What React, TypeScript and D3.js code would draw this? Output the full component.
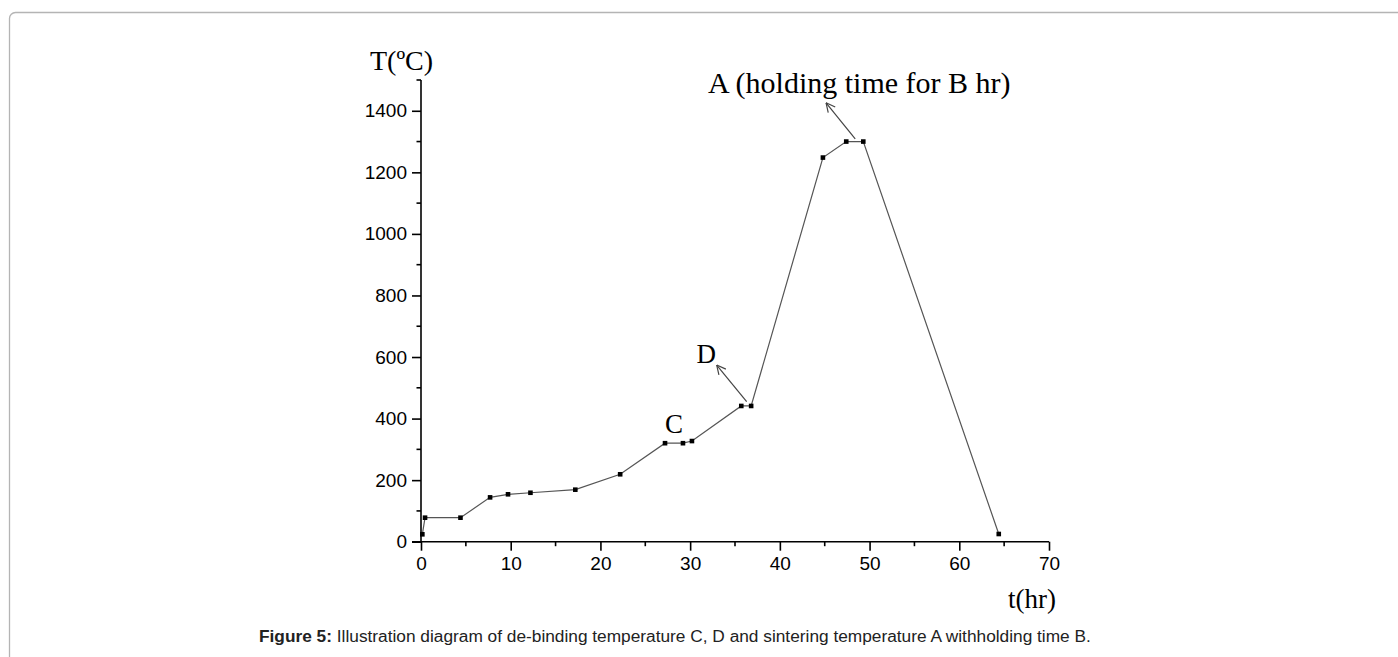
import React, { useEffect, useRef } from 'react';
import * as d3 from 'd3';

// sintering profile
const timeHr = [0.15, 0.45, 4.4, 7.7, 9.7, 12.2, 17.2, 22.2, 27.2, 29.2, 30.2, 35.7, 36.8, 44.8, 47.4, 49.3, 64.4];
const tempC = [24, 78, 78, 144, 154, 159, 169, 219, 320, 320, 327, 441, 441, 1248, 1300, 1300, 25];

const xMajor = [0, 10, 20, 30, 40, 50, 60, 70];
const xMinor = [5, 15, 25, 35, 45, 55, 65];
const yMajor = [0, 200, 400, 600, 800, 1000, 1200, 1400];
const yMinor = [100, 300, 500, 700, 900, 1100, 1300, 1500];

// annotation labels and arrows (data units)
const noteLabels = ['A (holding time for B hr)', 'D', 'C'];
const noteAt = [[32.0, 1457], [30.7, 582], [27.2, 354]];
const arrowFrom = [[48.4, 1309], [36.3, 455]];
const arrowTo = [[45.15, 1426], [32.96, 574]];

const caption = 'Illustration diagram of de-binding temperature C, D and sintering temperature A withholding time B.';

export default function App() {
  const ref = useRef<SVGSVGElement>(null);

  useEffect(() => {
    const width = 1398;
    const height = 657;
    const svg = d3.select(ref.current);
    svg.selectAll('*').remove();

    const x = d3.scaleLinear().domain([0, 70]).range([421, 1049]);
    const y = d3.scaleLinear().domain([0, 1500]).range([541.7, 80]);

    // page frame
    svg.append('rect')
      .attr('x', 9.5).attr('y', 12.5)
      .attr('width', width + 100).attr('height', height + 100)
      .attr('rx', 6)
      .attr('fill', 'none')
      .attr('stroke', '#b4b4b4')
      .attr('stroke-width', 1.3);

    const defs = svg.append('defs');
    defs.append('marker')
      .attr('id', 'open-arrow')
      .attr('viewBox', '0 0 10 10')
      .attr('refX', 10).attr('refY', 5)
      .attr('markerWidth', 10).attr('markerHeight', 10)
      .attr('markerUnits', 'userSpaceOnUse')
      .attr('orient', 'auto')
      .append('path')
      .attr('d', 'M1,0.5 L10,5 L1,9.5')
      .attr('fill', 'none')
      .attr('stroke', '#444')
      .attr('stroke-width', 1.2);

    const tickFont = 'Arial, "Liberation Sans", sans-serif';
    const serif = '"Times New Roman", "Liberation Serif", serif';
    const fmt = d3.format('d');

    // y axis
    const yAxis = svg.append('g').attr('transform', `translate(${x(0)},0)`);
    yAxis.call(
      d3.axisLeft(y).tickValues(yMajor).tickFormat(d => fmt(d as number))
        .tickSize(9).tickPadding(5).tickSizeOuter(0)
    );
    yAxis.select('.domain').remove();
    yAxis.append('line')
      .attr('y1', y(0)).attr('y2', y(1500))
      .attr('stroke', '#000').attr('stroke-width', 1.6);
    yAxis.selectAll('.tick line').attr('stroke-width', 1.6);
    yAxis.selectAll('.minor')
      .data(yMinor).enter().append('line')
      .attr('class', 'minor')
      .attr('x1', -4.5).attr('x2', 0)
      .attr('y1', d => y(d)).attr('y2', d => y(d))
      .attr('stroke', '#000').attr('stroke-width', 1.6);
    yAxis.selectAll('text')
      .attr('font-family', tickFont).attr('font-size', 19).attr('fill', '#000');

    // x axis
    const xAxis = svg.append('g').attr('transform', `translate(0,${y(0)})`);
    xAxis.call(
      d3.axisBottom(x).tickValues(xMajor).tickFormat(d => fmt(d as number))
        .tickSize(9).tickPadding(6).tickSizeOuter(0)
    );
    xAxis.select('.domain').remove();
    xAxis.append('line')
      .attr('x1', x(0) - 9).attr('x2', x(70))
      .attr('stroke', '#000').attr('stroke-width', 1.6);
    xAxis.selectAll('.tick line').attr('stroke-width', 1.6);
    xAxis.selectAll('.minor')
      .data(xMinor).enter().append('line')
      .attr('class', 'minor')
      .attr('y1', 0).attr('y2', 4.5)
      .attr('x1', d => x(d)).attr('x2', d => x(d))
      .attr('stroke', '#000').attr('stroke-width', 1.6);
    xAxis.selectAll('text')
      .attr('font-family', tickFont).attr('font-size', 19).attr('fill', '#000');

    // axis titles
    svg.append('text')
      .attr('x', x(0) - 51).attr('y', y(1500) - 10)
      .attr('font-family', serif).attr('font-size', 28)
      .text('T(ºC)');
    svg.append('text')
      .attr('x', x(70) - 41).attr('y', y(0) + 66)
      .attr('font-family', serif).attr('font-size', 27)
      .text('t(hr)');

    // profile line
    const line = d3.line<number>()
      .x((_, i) => x(timeHr[i]))
      .y((_, i) => y(tempC[i]));
    svg.append('path')
      .attr('d', line(tempC) || '')
      .attr('fill', 'none')
      .attr('stroke', '#555')
      .attr('stroke-width', 1.2);

    svg.selectAll('rect.pt')
      .data(tempC).enter().append('rect')
      .attr('class', 'pt')
      .attr('x', (_, i) => x(timeHr[i]) - 2.3)
      .attr('y', d => y(d) - 2.3)
      .attr('width', 4.6).attr('height', 4.6)
      .attr('fill', '#000');

    // arrows
    svg.selectAll('line.arrow')
      .data(arrowFrom).enter().append('line')
      .attr('class', 'arrow')
      .attr('x1', d => x(d[0])).attr('y1', d => y(d[1]))
      .attr('x2', (_, i) => x(arrowTo[i][0])).attr('y2', (_, i) => y(arrowTo[i][1]))
      .attr('stroke', '#444').attr('stroke-width', 1.2)
      .attr('marker-end', 'url(#open-arrow)');

    // annotation labels
    svg.selectAll('text.note')
      .data(noteLabels).enter().append('text')
      .attr('class', 'note')
      .attr('x', (_, i) => x(noteAt[i][0]))
      .attr('y', (_, i) => y(noteAt[i][1]))
      .attr('font-family', serif).attr('font-size', (_, i) => (i === 0 ? 30 : 27))
      .text(d => d);

    // caption
    const cap = svg.append('text')
      .attr('x', 259).attr('y', 642)
      .attr('font-family', tickFont).attr('font-size', 17.3).attr('fill', '#222');
    cap.append('tspan').attr('font-weight', 'bold').text('Figure 5:');
    cap.append('tspan').text(' ' + caption);
  }, []);

  return (
    <svg
      ref={ref}
      width={1398}
      height={657}
      style={{ position: 'absolute', left: 0, top: 0, background: '#fff' }}
    />
  );
}
